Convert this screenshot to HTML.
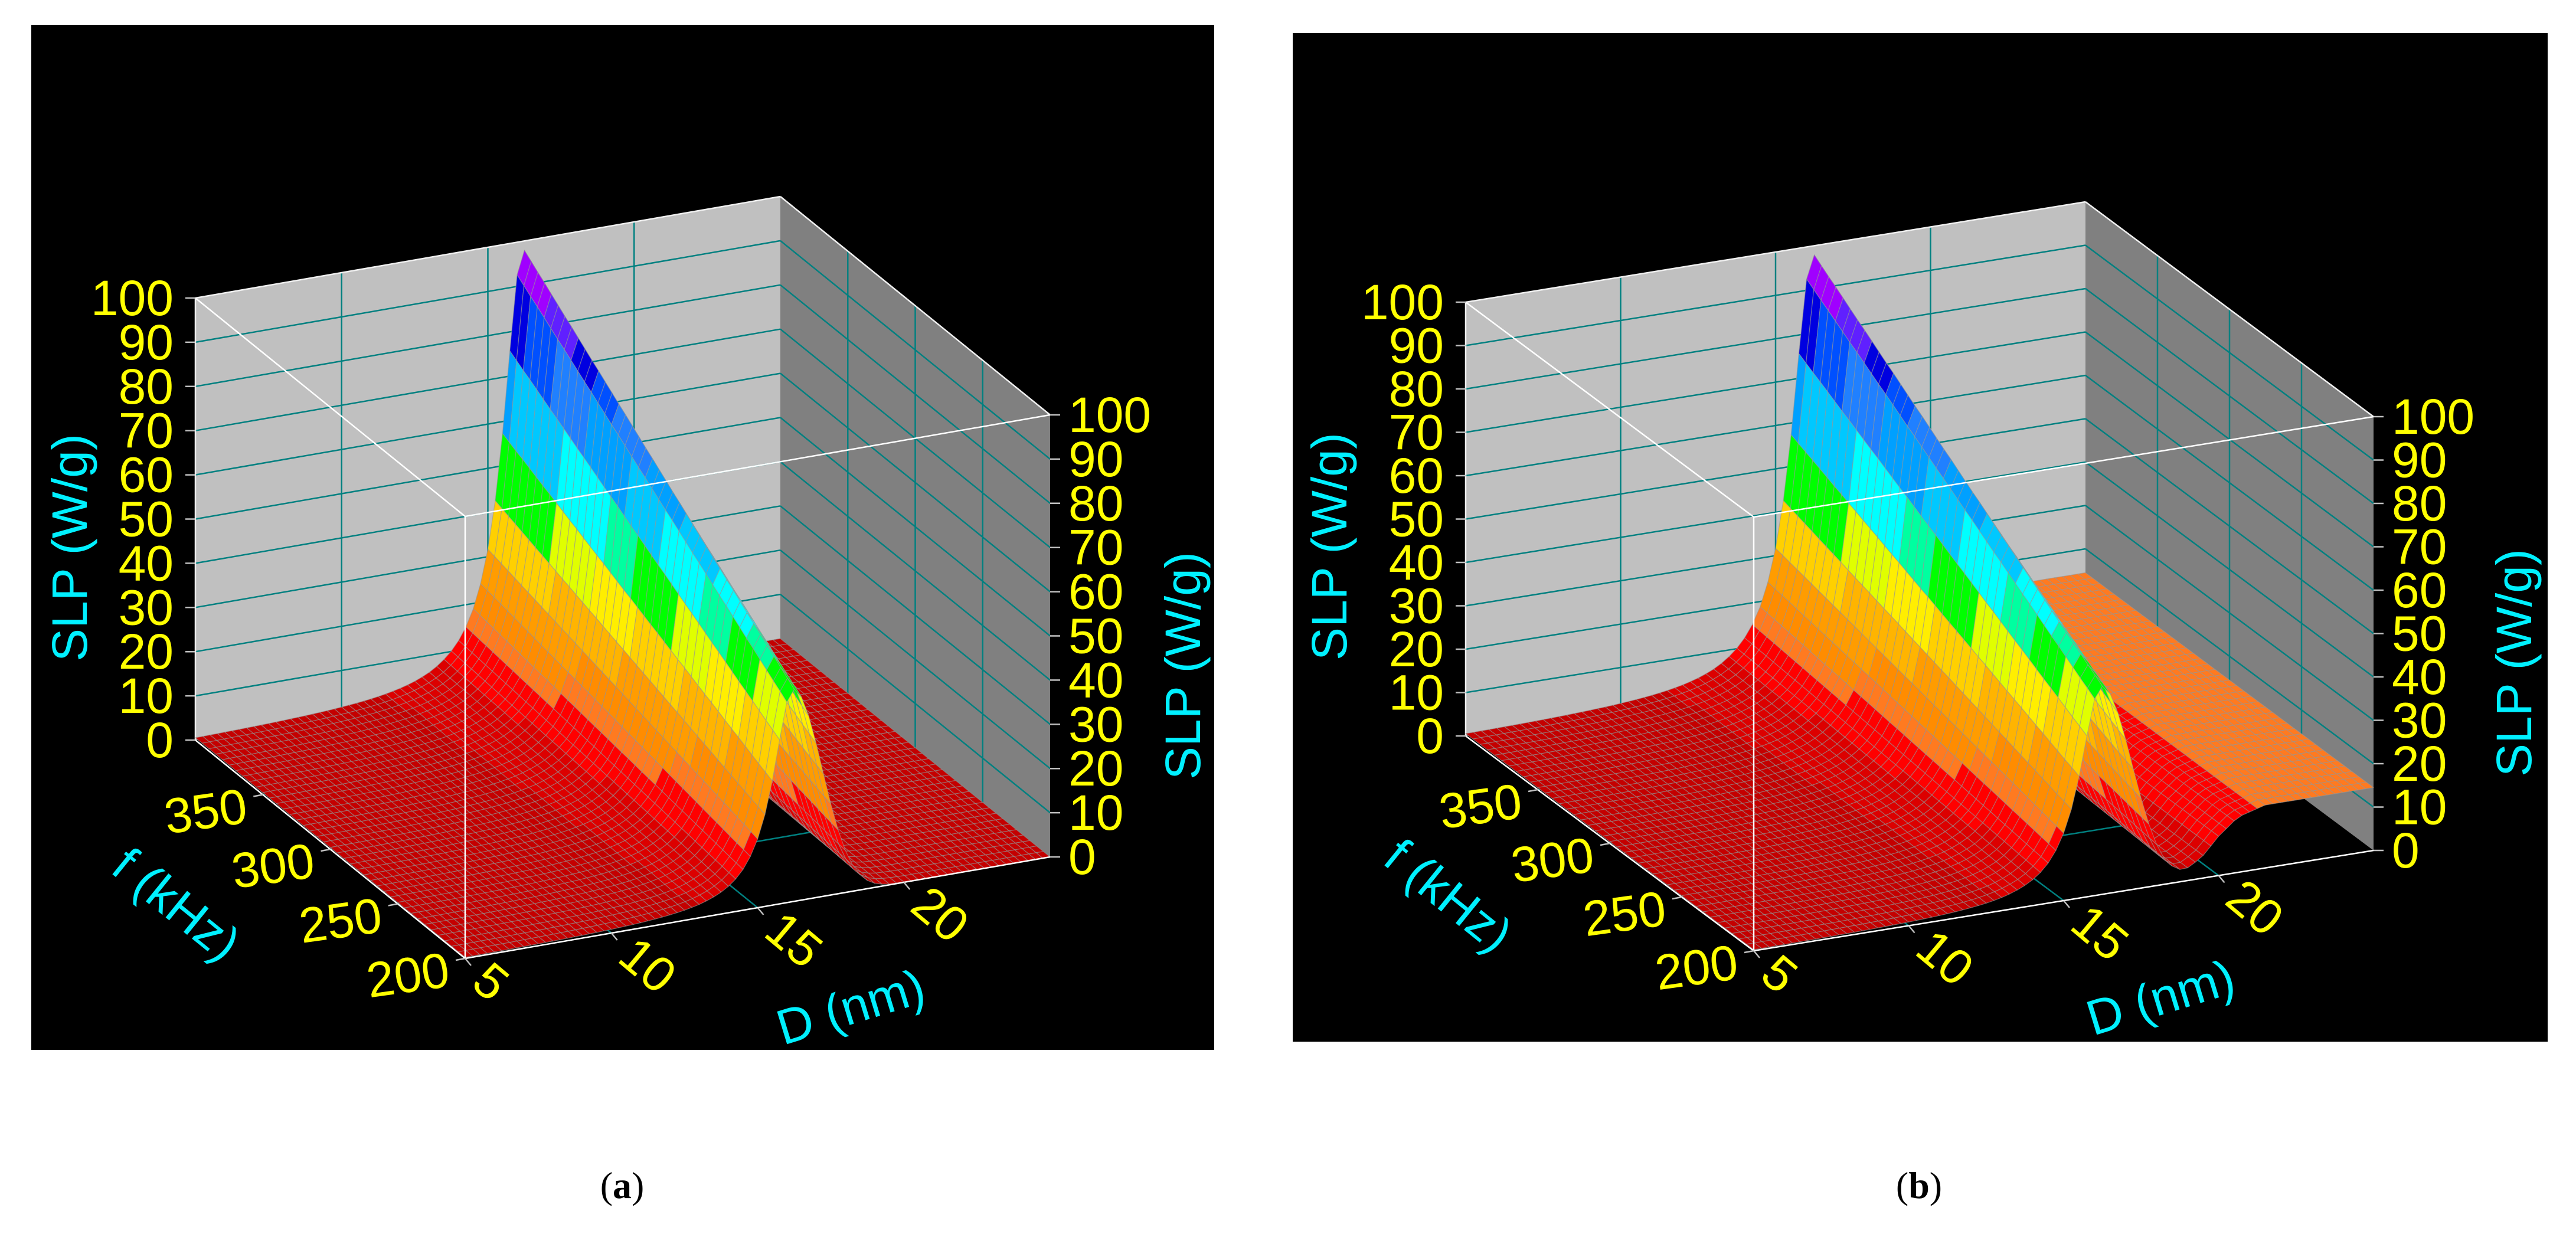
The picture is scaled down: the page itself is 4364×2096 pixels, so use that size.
<!DOCTYPE html>
<html><head><meta charset="utf-8"><title>SLP surfaces</title>
<style>html,body{margin:0;padding:0;background:#fff}svg{display:block}</style></head>
<body>
<svg id="fig" xmlns="http://www.w3.org/2000/svg" width="4364" height="2096" viewBox="0 0 4364 2096">
<rect x="0" y="0" width="4364" height="2096" fill="#fff"/>
<rect x="53" y="42" width="2004" height="1737" fill="#000"/>
<rect x="2190" y="56" width="2126" height="1709" fill="#000"/>
<g id="pa"></g>
<g id="pb"></g>
<text x="1054" y="2030" text-anchor="middle" font-family="'Liberation Serif', serif" font-size="64" fill="#000">(<tspan font-weight="bold">a</tspan>)</text>
<text x="3251" y="2030" text-anchor="middle" font-family="'Liberation Serif', serif" font-size="64" fill="#000">(<tspan font-weight="bold">b</tspan>)</text>
</svg>
<script>
// ---- data ----
const dVals = [5,5.25,5.5,5.75,6,6.25,6.5,6.75,7,7.25,7.5,7.75,8,8.25,8.5,8.75,9,9.25,9.5,9.75,10,10.25,10.5,10.75,11,11.25,11.5,11.75,12,12.25,12.5,12.75,13,13.25,13.5,13.75,14,14.25,14.5,14.75,15,15.25,15.5,15.75,16,16.25,16.5,16.75,17,17.25,17.5,17.75,18,18.25,18.5,18.75,19,19.25,19.5,19.75,20,20.25,20.5,20.75,21,21.25,21.5,21.75,22,22.25,22.5,22.75,23,23.25,23.5,23.75,24,24.25,24.5,24.75,25];
const fVals = [200,205,210,215,220,225,230,235,240,245,250,255,260,265,270,275,280,285,290,295,300,305,310,315,320,325,330,335,340,345,350,355,360,365,370,375,380,385,390,395,400];
// SLP (W/g) along D at f = 400 kHz
const ridgeA = [0.54,0.56,0.59,0.61,0.65,0.68,0.71,0.75,0.79,0.84,0.88,0.94,0.99,1.06,1.13,1.2,1.29,1.38,1.48,1.6,1.73,1.87,2.03,2.22,2.43,2.68,2.96,3.3,3.68,4.15,4.69,5.37,6.17,7.2,8.5,10.1,12.2,15,18.8,24.2,31.7,42.4,57.3,75.7,92.6,97.9,93.7,84.3,71.2,56.5,42.1,29.5,19.4,12,7,3.8,1.9,0.9,0.4,0.2,0.1,0,0,0,0,0,0,0,0,0,0,0,0,0,0,0,0,0,0,0,0];
const ridgeB = [0.54,0.56,0.59,0.61,0.65,0.68,0.71,0.75,0.79,0.84,0.88,0.94,0.99,1.06,1.13,1.2,1.29,1.38,1.48,1.6,1.73,1.87,2.03,2.22,2.43,2.68,2.96,3.3,3.68,4.15,4.69,5.37,6.17,7.2,8.5,10.1,12.2,15,18.8,24.2,31.7,42.4,57.3,75.7,92.6,97.9,93.7,84.3,71.2,56.5,42.1,29.5,19.4,12,7,3.8,1.9,0.9,0.4,0.2,0.1,0,0,0,0,0,0,0,0,0,0,0,0,0,0,0,0,0,0,0,0];
// relative SLP scaling with frequency
const fScale = [0.490,0.503,0.515,0.528,0.541,0.554,0.566,0.579,0.592,0.605,0.617,0.630,0.643,0.656,0.668,0.681,0.694,0.707,0.719,0.732,0.745,0.758,0.770,0.783,0.796,0.809,0.821,0.834,0.847,0.860,0.872,0.885,0.898,0.911,0.923,0.936,0.949,0.962,0.974,0.987,1.0];
// panel (b) additional plateau along D (W/g)
const plateauB = [0,0,0,0,0,0,0,0,0,0,0,0,0,0,0,0,0,0,0,0,0,0,0,0,0,0,0,0,0,0,0,0,0,0,0,0,0,0,0,0,0,0,0,0,0,0,0,0,0,0,0,0,0,0,0.5,1,2,3.5,5,7,9,10.5,12,13,13.5,14,14.5,14.5,14.5,14.5,14.5,14.5,14.5,14.5,14.5,14.5,14.5,14.5,14.5,14.5,14.5];
const zTicks = [0,10,20,30,40,50,60,70,80,90,100];
const fTicks = [200,250,300,350];
const dTicks = [5,10,15,20];
const bandLevels = [0,3,8,14,18,23,28,33,37,41,45,50,54,60,66,72,78,82,86,91,96];
const bandColors = ['#c40000','#dc0000','#ff0000','#ff7a20','#ff8c00','#ff9c00','#ffb400','#ffd000','#ffee00','#e0ff00','#00ff00','#00ffa0','#00ffff','#00c8ff','#00a0ff','#2080ff','#0050ff','#0000e0','#6020ff','#a000ff','#d000ff'];

const NS='http://www.w3.org/2000/svg';
function colorFor(z){let c=bandColors[0];for(let k=0;k<bandLevels.length;k++){if(z>=bandLevels[k])c=bandColors[k];}return c;}

function panel(gid, cfg, valueAt){
  const g=document.getElementById(gid);
  const D0=5,D1=25,F0=200,F1=400;
  function P(D,f,z){return [cfg.P0[0]+cfg.eD[0]*(D-D0)/(D1-D0)+cfg.eF[0]*(f-F0)/(F1-F0),
                            cfg.P0[1]+cfg.eD[1]*(D-D0)/(D1-D0)+cfg.eF[1]*(f-F0)/(F1-F0)+cfg.eZ*z/100];}
  function line(a,b,stroke,w,name){const e=document.createElementNS(NS,'line');
    e.setAttribute('x1',a[0]);e.setAttribute('y1',a[1]);e.setAttribute('x2',b[0]);e.setAttribute('y2',b[1]);
    e.setAttribute('stroke',stroke);e.setAttribute('stroke-width',w);
    
    
    g.appendChild(e);return e;}
  function poly(pts,fill,name){const e=document.createElementNS(NS,'polygon');
    e.setAttribute('points',pts.map(p=>p[0].toFixed(1)+','+p[1].toFixed(1)).join(' '));
    e.setAttribute('fill',fill);
    
    
    g.appendChild(e);return e;}
  function text(x,y,str,opts,name){const e=document.createElementNS(NS,'text');
    e.setAttribute('x',x);e.setAttribute('y',y);e.textContent=str;
    e.setAttribute('font-family',"'Liberation Sans', Arial, sans-serif");
    e.setAttribute('font-size',opts.size||84);e.setAttribute('fill',opts.fill||'#ffff00');
    e.setAttribute('text-anchor',opts.anchor||'middle');e.setAttribute('dominant-baseline','central');
    if(opts.rot!==undefined)e.setAttribute('transform','rotate('+opts.rot+' '+x+' '+y+')');
    
    
    g.appendChild(e);return e;}
  const teal='#008080';
  poly([P(5,400,0),P(25,400,0),P(25,400,100),P(5,400,100)],'#c0c0c0','back-wall');
  poly([P(25,200,0),P(25,400,0),P(25,400,100),P(25,200,100)],'#808080','side-wall');
  zTicks.forEach(z=>{ if(z>0&&z<100){line(P(5,400,z),P(25,400,z),teal,2.5,'back-wall-gridline');line(P(25,400,z),P(25,200,z),teal,2.5,'side-wall-gridline');}});
  [10,15,20].forEach(D=>{line(P(D,400,0),P(D,400,100),teal,2.5,'back-wall-gridline');line(P(D,200,0),P(D,400,0),teal,2.5,'floor-gridline');});
  [250,300,350].forEach(f=>{line(P(25,f,0),P(25,f,100),teal,2.5,'side-wall-gridline');line(P(5,f,0),P(25,f,0),teal,2.5,'floor-gridline');});
  line(P(5,400,100),P(25,400,100),'#f0f0f0',2.5,'box-edge');
  line(P(25,400,100),P(25,200,100),'#f0f0f0',2.5,'box-edge');
  line(P(5,400,0),P(5,400,100),'#f0f0f0',2.5,'box-edge');
  const quads=[];
  for(let i=0;i<dVals.length-1;i++)for(let j=0;j<fVals.length-1;j++){
    const Dm=(dVals[i]+dVals[i+1])/2, fm=(fVals[j]+fVals[j+1])/2;
    quads.push({i,j,depth:0.42*(Dm-5)/20+0.91*(fm-200)/200});
  }
  quads.sort((a,b)=>b.depth-a.depth);
  quads.forEach(q=>{const i=q.i,j=q.j;
    const z00=valueAt(i,j),z10=valueAt(i+1,j),z11=valueAt(i+1,j+1),z01=valueAt(i,j+1);
    const e=poly([P(dVals[i],fVals[j],z00),P(dVals[i+1],fVals[j],z10),P(dVals[i+1],fVals[j+1],z11),P(dVals[i],fVals[j+1],z01)],
      colorFor((z00+z10+z11+z01)/4),'surface-cell');
    e.setAttribute('stroke','rgba(150,150,150,0.6)');e.setAttribute('stroke-width','1.2');e.setAttribute('stroke-linejoin','round');
  });
  line(P(5,400,100),P(5,200,100),'#ffffff',2.5,'box-edge');
  line(P(5,200,100),P(25,200,100),'#ffffff',2.5,'box-edge');
  line(P(5,200,0),P(5,200,100),'#ffffff',2.5,'box-edge');
  line(P(5,200,0),P(25,200,0),'#ffffff',2.5,'floor-edge');
  line(P(5,200,0),P(5,400,0),'#ffffff',2.5,'floor-edge');
  zTicks.forEach(z=>{const a=P(5,400,z);line(a,[a[0]-17,a[1]],'#c0c0c0',2.5,'z-tick-left');
    text(a[0]-37,a[1],String(z),{anchor:'end'},'z-tick-label-left');
    const b=P(25,200,z);line(b,[b[0]+17,b[1]],'#c0c0c0',2.5,'z-tick-right');
    text(b[0]+31,b[1],String(z),{anchor:'start'},'z-tick-label-right');});
  fTicks.forEach(f=>{const a=P(5,f,0);line(a,[a[0]-16,a[1]+3],'#c0c0c0',2.5,'f-tick');
    text(a[0]-97,a[1]+28,String(f),{rot:-8},'f-tick-label');});
  dTicks.forEach(D=>{const a=P(D,200,0);line(a,[a[0]+10,a[1]+12],'#c0c0c0',2.5,'d-tick');
    text(a[0]+26,a[1]+24,String(D),{anchor:'start',rot:40},'d-tick-label');});
  const cy='#00f0ff';
  text(cfg.lt[0],cfg.lt[1],'SLP (W/g)',{fill:cy,rot:-90},'z-axis-title-left');
  text(cfg.rt[0],cfg.rt[1],'SLP (W/g)',{fill:cy,rot:-90},'z-axis-title-right');
  text(cfg.ft[0],cfg.ft[1],'f (kHz)',{fill:cy,rot:39},'f-axis-title');
  text(cfg.dt[0],cfg.dt[1],'D (nm)',{fill:cy,rot:-17},'d-axis-title');
}

panel('pa',{P0:[788,1624],eD:[991,-172],eF:[-457,-370],eZ:-749,lt:[118,928],rt:[2004,1128],ft:[299,1532],dt:[1441,1706]},
  (i,j)=>ridgeA[i]*fScale[j]);
panel('pb',{P0:[2971,1611],eD:[1050,-170],eF:[-488,-364],eZ:-735,lt:[2252,926],rt:[4259,1123],ft:[2454,1517],dt:[3660,1690]},
  (i,j)=>ridgeB[i]*fScale[j]+plateauB[i]);
</script>
</body></html>
